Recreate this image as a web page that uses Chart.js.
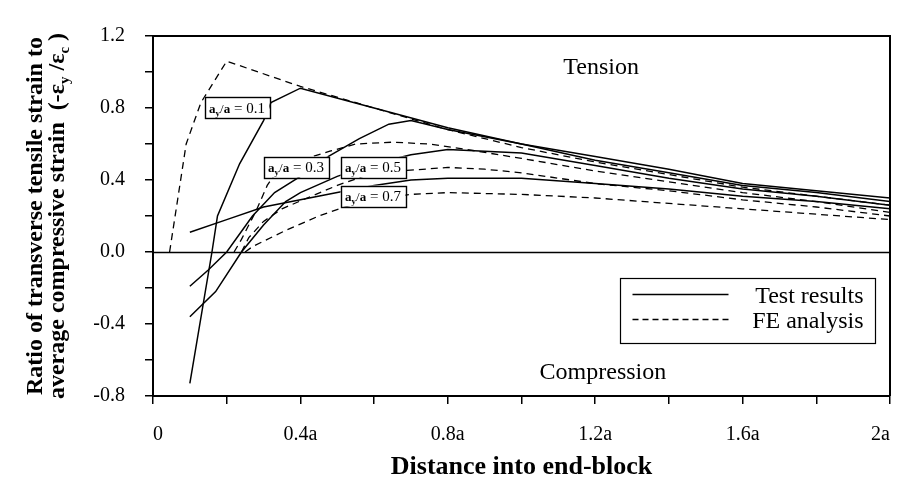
<!DOCTYPE html>
<html>
<head>
<meta charset="utf-8">
<script src="https://cdn.jsdelivr.net/npm/chart.js@4.4.0/dist/chart.umd.min.js"></script>
<style>
  html, body { margin: 0; padding: 0; background: #fff; }
  #wrap { width: 897px; height: 481px; }
</style>
</head>
<body>
<div id="wrap"><canvas id="chart" width="897" height="481"></canvas></div>
<script>
// Transverse tensile strain ratio along the end-block: test results vs FE analysis

const SERIF = "'Liberation Serif', 'Times New Roman', serif";

// tick labels (every 0.4 of the 0.2 grid)
const xTickLabels = ['0', '0.4a', '0.8a', '1.2a', '1.6a', '2a'];
const yTickLabels = ['-0.8', '-0.4', '0.0', '0.4', '0.8', '1.2'];

const ratios = ['0.1', '0.3', '0.5', '0.7'];
const legendLabels = ['Test results', 'FE analysis'];

// Test results (solid)
const test01X = [0.10, 0.16, 0.175, 0.235, 0.30, 0.32, 0.40, 0.60, 0.80, 1.00, 1.20, 1.40, 1.60, 1.80, 2.00];
const test01Y = [-0.73, 0.00, 0.20, 0.49, 0.73, 0.83, 0.91, 0.80, 0.69, 0.60, 0.53, 0.46, 0.38, 0.34, 0.30];

const test03X = [0.10, 0.15, 0.20, 0.27, 0.33, 0.40, 0.475, 0.56, 0.64, 0.70, 0.80, 1.00, 1.20, 1.40, 1.60, 1.80, 2.00];
const test03Y = [-0.19, -0.10, 0.00, 0.20, 0.33, 0.42, 0.53, 0.63, 0.71, 0.73, 0.68, 0.60, 0.51, 0.44, 0.37, 0.33, 0.28];

const test05X = [0.10, 0.17, 0.24, 0.30, 0.36, 0.40, 0.50, 0.60, 0.70, 0.80, 0.90, 1.00, 1.20, 1.40, 1.60, 1.80, 2.00];
const test05Y = [-0.36, -0.22, 0.00, 0.15, 0.28, 0.33, 0.42, 0.49, 0.54, 0.57, 0.56, 0.55, 0.48, 0.41, 0.35, 0.31, 0.26];

const test07X = [0.10, 0.20, 0.30, 0.40, 0.50, 0.60, 0.70, 0.80, 1.00, 1.20, 1.40, 1.60, 1.80, 2.00];
const test07Y = [0.11, 0.18, 0.25, 0.29, 0.33, 0.37, 0.40, 0.41, 0.41, 0.38, 0.35, 0.31, 0.28, 0.24];

// FE analysis (dashed)
const fe01X = [0.045, 0.09, 0.13, 0.20, 0.40, 0.60, 0.80, 1.00, 1.20, 1.40, 1.60, 1.80, 2.00];
const fe01Y = [0.00, 0.60, 0.83, 1.06, 0.92, 0.80, 0.68, 0.58, 0.50, 0.43, 0.36, 0.31, 0.26];

const fe03X = [0.22, 0.24, 0.28, 0.31, 0.34, 0.40, 0.48, 0.55, 0.65, 0.75, 0.85, 1.00, 1.20, 1.40, 1.60, 1.80, 2.00];
const fe03Y = [0.00, 0.07, 0.23, 0.37, 0.46, 0.51, 0.56, 0.60, 0.61, 0.60, 0.57, 0.52, 0.45, 0.39, 0.33, 0.28, 0.22];

const fe05X = [0.24, 0.26, 0.30, 0.35, 0.43, 0.50, 0.57, 0.67, 0.80, 0.90, 1.00, 1.20, 1.40, 1.60, 1.80, 2.00];
const fe05Y = [0.00, 0.08, 0.17, 0.24, 0.31, 0.37, 0.42, 0.45, 0.47, 0.46, 0.44, 0.38, 0.34, 0.29, 0.25, 0.20];

const fe07X = [0.25, 0.27, 0.36, 0.45, 0.52, 0.60, 0.70, 0.80, 1.00, 1.20, 1.40, 1.60, 1.80, 2.00];
const fe07Y = [0.00, 0.03, 0.12, 0.20, 0.25, 0.29, 0.32, 0.33, 0.32, 0.30, 0.27, 0.24, 0.21, 0.18];

function pts(xs, ys) {
    return xs.map((x, i) => ({ x: x, y: ys[i] }));
}

function solid(label, xs, ys) {
    return { label: label, data: pts(xs, ys), borderColor: '#000', borderWidth: 1.5, borderDash: [], pointRadius: 0, tension: 0 };
}

function dashed(label, xs, ys) {
    return { label: label, data: pts(xs, ys), borderColor: '#000', borderWidth: 1.3, borderDash: [7, 5], pointRadius: 0, tension: 0 };
}

const datasets = [
    solid(legendLabels[0] + ' ' + ratios[0], test01X, test01Y),
    solid(legendLabels[0] + ' ' + ratios[1], test03X, test03Y),
    solid(legendLabels[0] + ' ' + ratios[2], test05X, test05Y),
    solid(legendLabels[0] + ' ' + ratios[3], test07X, test07Y),
    dashed(legendLabels[1] + ' ' + ratios[0], fe01X, fe01Y),
    dashed(legendLabels[1] + ' ' + ratios[1], fe03X, fe03Y),
    dashed(legendLabels[1] + ' ' + ratios[2], fe05X, fe05Y),
    dashed(legendLabels[1] + ' ' + ratios[3], fe07X, fe07Y)
];

// where the a_y/a labels sit (data units, box centre)
const boxSpots = [
    { x: 0.228, y: 0.800 },
    { x: 0.388, y: 0.472 },
    { x: 0.597, y: 0.472 },
    { x: 0.597, y: 0.311 }
];

// draw a run of text pieces left to right, each with its own font and baseline shift
function drawRuns(ctx, x, y, runs) {
    let cx = x;
    runs.forEach(r => {
        ctx.font = r.f;
        ctx.fillText(r.t, cx, y + (r.dy || 0));
        cx += ctx.measureText(r.t).width;
    });
    return cx - x;
}

function runsWidth(ctx, runs) {
    let w = 0;
    runs.forEach(r => { ctx.font = r.f; w += ctx.measureText(r.t).width; });
    return w;
}

function drawRatioBox(ctx, cx, cy, ratio) {
    const runs = [
        { t: 'a', f: 'bold 13px ' + SERIF },
        { t: 'y', f: 'bold 9px ' + SERIF, dy: 3 },
        { t: '/', f: '13px ' + SERIF },
        { t: 'a', f: 'bold 13px ' + SERIF },
        { t: ' = ' + ratio, f: '15px ' + SERIF }
    ];
    const w = runsWidth(ctx, runs) + 9;
    const h = 21;
    ctx.fillStyle = '#fff';
    ctx.fillRect(cx - w / 2, cy - h / 2, w, h);
    ctx.strokeStyle = '#000';
    ctx.lineWidth = 1.4;
    ctx.setLineDash([]);
    ctx.strokeRect(Math.round(cx - w / 2) + 0.5, Math.round(cy - h / 2) + 0.5, Math.round(w), h);
    ctx.fillStyle = '#000';
    ctx.textBaseline = 'alphabetic';
    ctx.textAlign = 'left';
    drawRuns(ctx, cx - w / 2 + 4.5, cy + 5, runs);
}

const decor = {
    id: 'decor',
    beforeDatasetsDraw(chart) {
        const { ctx, chartArea: a, scales: { y } } = chart;
        ctx.save();
        ctx.strokeStyle = '#000';
        ctx.lineWidth = 1.3;
        const y0 = Math.round(y.getPixelForValue(0)) + 0.5;
        ctx.beginPath();
        ctx.moveTo(a.left, y0);
        ctx.lineTo(a.right, y0);
        ctx.stroke();
        ctx.restore();
    },
    afterDatasetsDraw(chart) {
        const { ctx, chartArea: a, scales: { x, y } } = chart;
        ctx.save();

        // top and right frame
        ctx.strokeStyle = '#000';
        ctx.lineWidth = 2;
        ctx.beginPath();
        ctx.moveTo(a.left, a.top);
        ctx.lineTo(a.right, a.top);
        ctx.lineTo(a.right, a.bottom);
        ctx.stroke();

        // a_y/a boxes
        ratios.forEach((r, i) => {
            drawRatioBox(ctx, x.getPixelForValue(boxSpots[i].x), y.getPixelForValue(boxSpots[i].y), r);
        });

        // region notes
        ctx.fillStyle = '#000';
        ctx.font = '24px ' + SERIF;
        ctx.textAlign = 'center';
        ctx.textBaseline = 'middle';
        ctx.fillText('Tension', x.getPixelForValue(1.216), y.getPixelForValue(1.022));
        ctx.fillText('Compression', x.getPixelForValue(1.221), y.getPixelForValue(-0.672));

        // legend box
        const L = Math.round(x.getPixelForValue(1.267)) + 0.5;
        const R = Math.round(x.getPixelForValue(1.959)) + 0.5;
        const T = Math.round(y.getPixelForValue(-0.144)) + 0.5;
        const B = Math.round(y.getPixelForValue(-0.506)) + 0.5;
        ctx.fillStyle = '#fff';
        ctx.fillRect(L, T, R - L, B - T);
        ctx.lineWidth = 1.2;
        ctx.strokeRect(L, T, R - L, B - T);
        const rows = [T + 16, T + 41];
        ctx.lineWidth = 1.3;
        ctx.beginPath();
        ctx.moveTo(L + 12, rows[0]);
        ctx.lineTo(L + 108, rows[0]);
        ctx.stroke();
        ctx.setLineDash([6, 4]);
        ctx.beginPath();
        ctx.moveTo(L + 12, rows[1]);
        ctx.lineTo(L + 108, rows[1]);
        ctx.stroke();
        ctx.setLineDash([]);
        ctx.fillStyle = '#000';
        ctx.font = '24px ' + SERIF;
        ctx.textAlign = 'right';
        ctx.textBaseline = 'middle';
        ctx.fillText(legendLabels[0], R - 12, rows[0] + 2);
        ctx.fillText(legendLabels[1], R - 12, rows[1] + 2);

        // x title
        ctx.font = 'bold 26px ' + SERIF;
        ctx.textAlign = 'center';
        ctx.textBaseline = 'middle';
        ctx.fillText('Distance into end-block', (a.left + a.right) / 2, 467);

        // y title, two rotated lines
        const cy = (a.top + a.bottom) / 2;
        ctx.translate(0, cy);
        ctx.rotate(-Math.PI / 2);
        ctx.textAlign = 'left';
        ctx.textBaseline = 'alphabetic';
        const bf = 'bold 24px ' + SERIF;
        const line1 = [{ t: 'Ratio of transverse tensile strain to', f: bf }];
        const line2 = [
            { t: 'average compressive strain  (-\u03B5', f: bf },
            { t: 'y', f: 'bold 15px ' + SERIF, dy: 5 },
            { t: ' /\u03B5', f: bf },
            { t: 'c', f: 'bold 15px ' + SERIF, dy: 5 },
            { t: ' )', f: bf }
        ];
        drawRuns(ctx, -runsWidth(ctx, line1) / 2, 42, line1);
        drawRuns(ctx, -runsWidth(ctx, line2) / 2, 64, line2);

        ctx.restore();
    }
};

new Chart(document.getElementById('chart'), {
    type: 'line',
    data: { datasets: datasets },
    options: {
        responsive: false,
        animation: false,
        layout: { padding: { top: 36, right: 7, left: 0, bottom: 0 } },
        plugins: {
            legend: { display: false },
            tooltip: { enabled: false }
        },
        scales: {
            x: {
                type: 'linear',
                min: 0,
                max: 2,
                ticks: {
                    stepSize: 0.2,
                    autoSkip: false,
                    maxRotation: 0,
                    align: 'inner',
                    color: '#000',
                    padding: 19,
                    font: { family: SERIF, size: 20 },
                    callback: function(v) {
                        const r = Math.round(v * 10);
                        return r % 4 === 0 ? xTickLabels[r / 4] : '';
                    }
                },
                grid: { drawOnChartArea: false, drawTicks: true, tickLength: 8, color: '#000', lineWidth: 1.5 },
                border: { display: true, color: '#000', width: 2 },
                afterFit: function(s) { s.height = 85; s.paddingLeft = 0; s.paddingRight = 0; }
            },
            y: {
                min: -0.8,
                max: 1.2,
                ticks: {
                    stepSize: 0.2,
                    autoSkip: false,
                    color: '#000',
                    padding: 20,
                    font: { family: SERIF, size: 20 },
                    callback: function(v) {
                        const r = Math.round((v + 0.8) * 10);
                        return r % 4 === 0 ? yTickLabels[r / 4] : '';
                    }
                },
                grid: { drawOnChartArea: false, drawTicks: true, tickLength: 8, color: '#000', lineWidth: 1.5 },
                border: { display: true, color: '#000', width: 2 },
                afterFit: function(s) { s.width = 153; s.paddingTop = 0; s.paddingBottom = 0; }
            }
        }
    },
    plugins: [decor]
});
</script>
</body>
</html>
